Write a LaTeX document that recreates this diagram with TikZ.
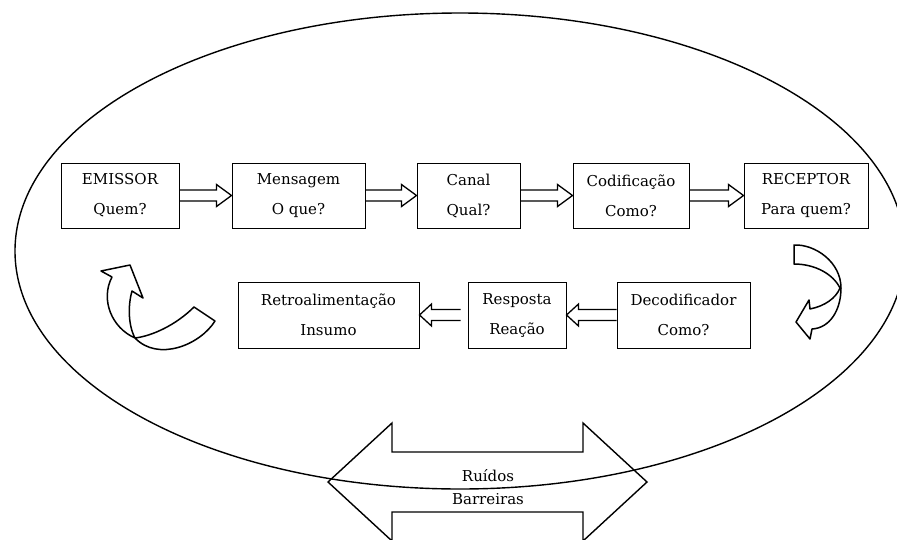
\documentclass[tikz,border=0pt]{standalone}
\usepackage{fontspec}
\setmainfont{DejaVu Serif}
\usetikzlibrary{calc}

\tikzset{
  box/.style={draw, line width=1pt, minimum height=65pt, inner sep=0pt,
    align=center, font=\fontsize{15}{30}\selectfont},
  flow/.style={draw, line width=1.3pt, line join=miter},
  swirl/.style={draw, line width=1.5pt, line join=round},
  outline/.style={draw, line width=1.4pt},
  label/.style={align=center, font=\fontsize{15}{23}\selectfont},
}

% block arrow pointing right, from the east side of #1 to the west side of #2
\newcommand\rightflow[2]{%
  \draw[flow] let \p1=(#1.east), \p2=(#2.west) in
    (\x1,\y1+5.5pt) -- (\x2-15pt,\y1+5.5pt) -- (\x2-15pt,\y1+11pt) -- (\x2,\y1)
    -- (\x2-15pt,\y1-11pt) -- (\x2-15pt,\y1-5.5pt) -- (\x1,\y1-5.5pt);}

% block arrow pointing left, from the west side of #1 (less a gap #3) to the east side of #2
\newcommand\leftflow[3]{%
  \draw[flow] let \p1=(#1.west), \p2=(#2.east) in
    (\x1-#3,\y1+5.5pt) -- (\x2+12pt,\y1+5.5pt) -- (\x2+12pt,\y1+11pt) -- (\x2,\y1)
    -- (\x2+12pt,\y1-11pt) -- (\x2+12pt,\y1-5.5pt) -- (\x1-#3,\y1-5.5pt);}

\begin{document}
\begin{tikzpicture}[x=1pt,y=-1pt]
  \useasboundingbox (0,0) rectangle (897,539);
  \clip (0,0) rectangle (897,539);

  % enclosing ellipse
  \draw[outline] (460,251) ellipse [x radius=445pt, y radius=238pt];

  % upper row
  \node[box, minimum width=118pt] (emissor)  at (120,195.5)   {EMISSOR\\Quem?};
  \node[box, minimum width=133pt] (mensagem) at (298.5,195.5) {Mensagem\\O que?};
  \node[box, minimum width=103pt] (canal)    at (468.5,195.5) {Canal\\Qual?};
  \node[box, minimum width=116pt] (codif)    at (631,195.5)   {Codificação\\Como?};
  \node[box, minimum width=124pt] (receptor) at (806,195.5)   {RECEPTOR\\Para quem?};

  % lower row
  \node[box, minimum width=181pt, minimum height=66pt] (retro)    at (328.5,315) {Retroalimentação\\Insumo};
  \node[box, minimum width=98pt,  minimum height=66pt] (resposta) at (517,315)   {Resposta\\Reação};
  \node[box, minimum width=133pt, minimum height=66pt] (decod)    at (683.5,315) {Decodificador\\Como?};

  \rightflow{emissor}{mensagem}
  \rightflow{mensagem}{canal}
  \rightflow{canal}{codif}
  \rightflow{codif}{receptor}
  \leftflow{decod}{resposta}{0pt}
  \leftflow{resposta}{retro}{7pt}

  % turning arrow on the right (from the receptor down to the decoder)
  \draw[swirl] (794,245) .. controls (815,244) and (841,262) .. (841,288)
    .. controls (841,310) and (830,328) .. (812,329)
    -- (810,339) -- (796,322) -- (809,300) -- (810,309)
    .. controls (825,306) and (836,298) .. (840,288)
    .. controls (833,274) and (815,264) .. (794,264) -- cycle;

  % turning arrow on the left (feedback back up to the sender)
  \draw[swirl] (101,271) -- (130,265) -- (143,298) -- (132,291)
    .. controls (128,305) and (128,325) .. (135,338)
    .. controls (152,336) and (176,325) .. (194,307)
    -- (215,321)
    .. controls (200,345) and (158,362) .. (135,338)
    .. controls (112,328) and (100,300) .. (112,277) -- cycle;

  % noise double arrow
  \draw[outline, line join=miter] (328,482) -- (392,423) -- (392,452) -- (583,452) -- (583,423)
    -- (647,482) -- (583,541) -- (583,512) -- (392,512) -- (392,541) -- cycle;
  \node[label] (ruidos) at (488,487) {Ruídos\\Barreiras};
\end{tikzpicture}
\end{document}
